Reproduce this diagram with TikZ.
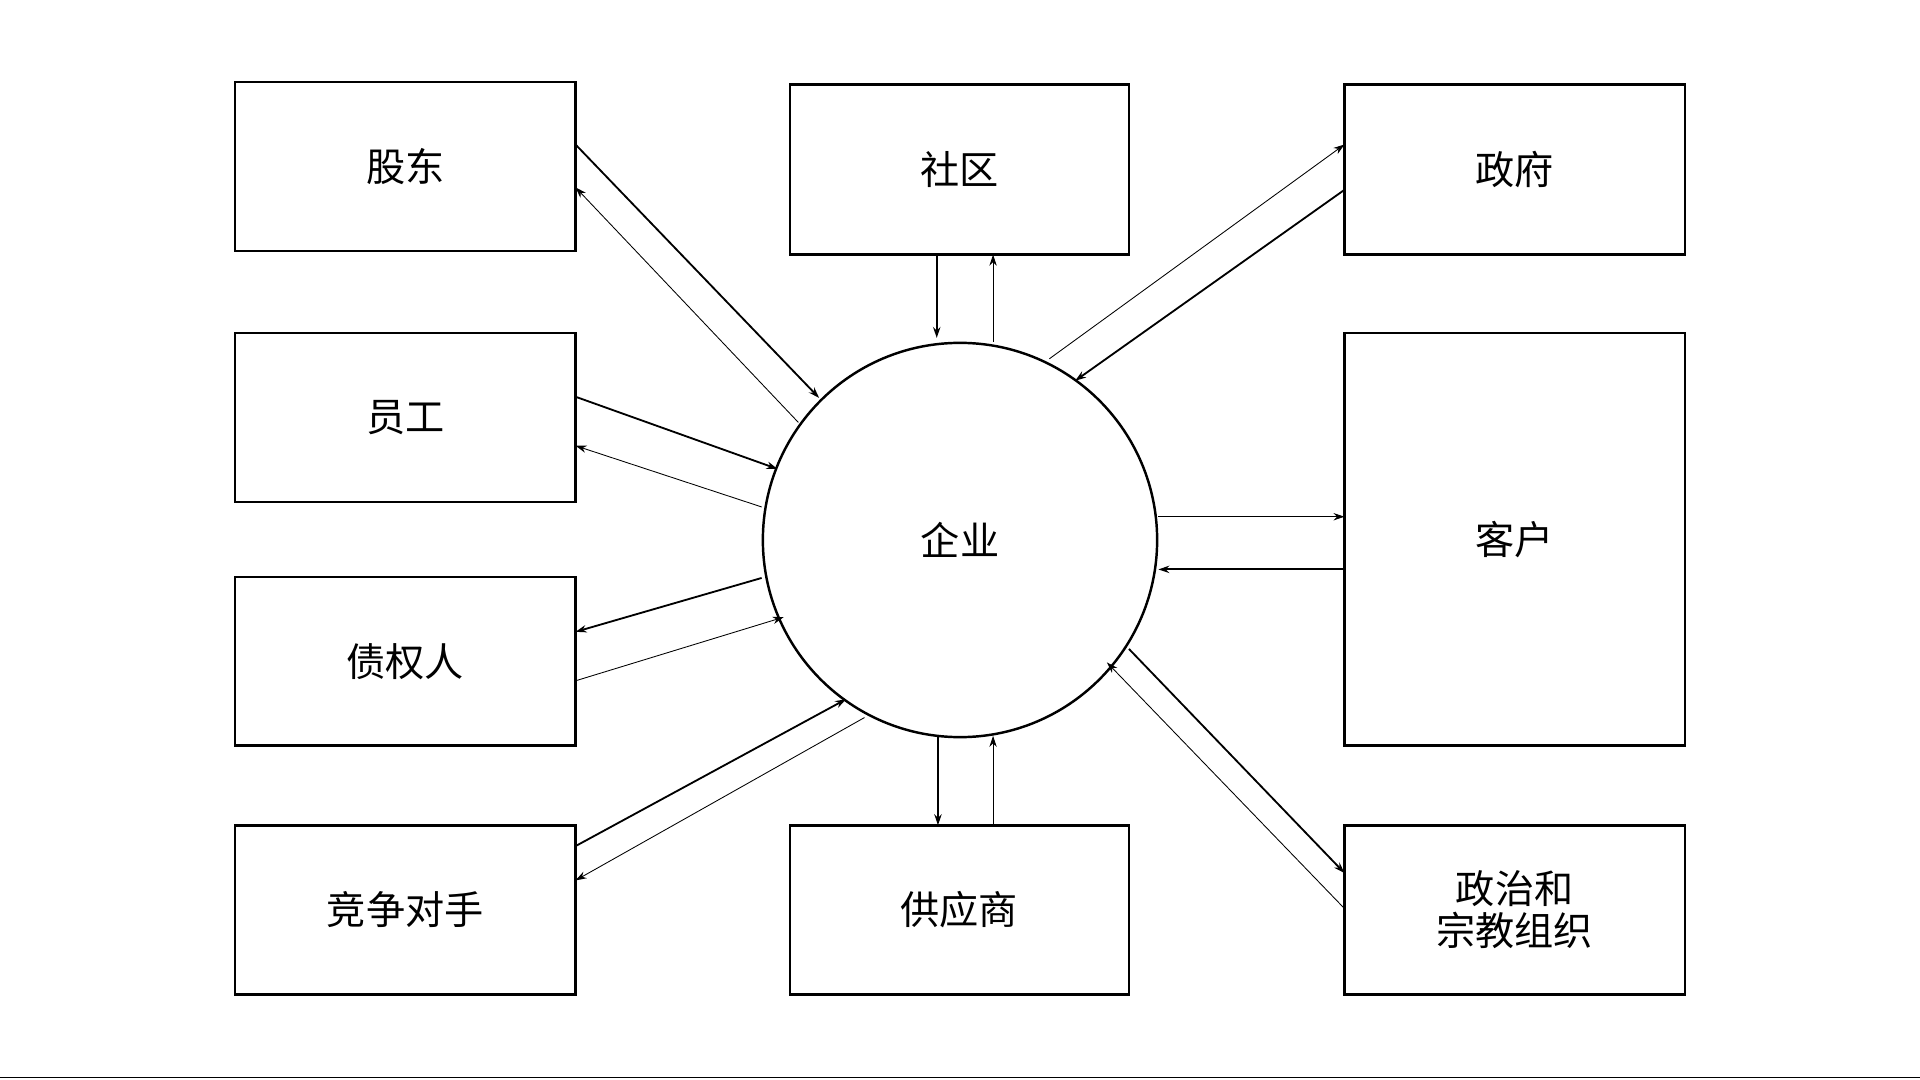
\documentclass[tikz,border=0pt]{standalone}
\usepackage{fontspec}
\setmainfont{Noto Sans CJK SC}
\usetikzlibrary{arrows.meta}
\begin{document}
\begin{tikzpicture}[x=1pt,y=-1pt,
  box/.style={draw,line width=2pt,font=\fontsize{32}{38}\selectfont,align=center},
  thk/.style={line width=1.5pt,-{Stealth[length=9pt,width=6pt]}},
  thn/.style={line width=0.7pt,-{Stealth[length=9pt,width=6pt]}}]
\useasboundingbox (0,0) rectangle (1568,882);
\newcommand{\bx}[6]{\node[box,minimum width=#4-#2,minimum height=#5-#3] (#1) at ({(#2+#4)/2},{(#3+#5)/2}) {#6};}
\bx{gd}{192}{67}{470}{205}{股东}
\bx{sq}{645}{69}{922}{208}{社区}
\bx{zf}{1098}{69}{1376}{208}{政府}
\bx{yg}{192}{272}{470}{410}{员工}
\bx{kh}{1098}{272}{1376}{609}{客户}
\bx{zq}{192}{471}{470}{609}{债权人}
\bx{jz}{192}{674}{470}{812}{竞争对手}
\bx{gy}{645}{674}{922}{812}{供应商}
\bx{zz}{1098}{674}{1376}{812}{政治和\\[-4pt]宗教组织}
\node[draw,circle,line width=2pt,minimum size=322pt,font=\fontsize{32}{38}\selectfont] (qy) at (784,441) {企业};
\draw[line width=1pt] (0,880) coordinate (l1) -- (1568,880) coordinate (l2);
% endpoints
\coordinate (a1) at (470,118); \coordinate (a2) at (669,325);
\coordinate (a3) at (652,345); \coordinate (a4) at (470,153);
\coordinate (b1) at (765,208); \coordinate (b2) at (765,276);
\coordinate (b3) at (811,279); \coordinate (b4) at (811,208);
\coordinate (c1) at (857,293); \coordinate (c2) at (1098,118);
\coordinate (c3) at (1098,155); \coordinate (c4) at (878,311);
\coordinate (d1) at (470,324); \coordinate (d2) at (635,383);
\coordinate (d3) at (622,414); \coordinate (d4) at (470,364);
\coordinate (e1) at (946,422); \coordinate (e2) at (1098,422);
\coordinate (e3) at (1098,465); \coordinate (e4) at (946,465);
\coordinate (f1) at (622,472); \coordinate (f2) at (470,516);
\coordinate (f3) at (470,556); \coordinate (f4) at (640,504);
\coordinate (g1) at (470,691); \coordinate (g2) at (691,571);
\coordinate (g3) at (706,586); \coordinate (g4) at (470,719);
\coordinate (h1) at (766,601); \coordinate (h2) at (766,674);
\coordinate (h3) at (811,674); \coordinate (h4) at (811,601);
\coordinate (i1) at (922,530); \coordinate (i2) at (1098,713);
\coordinate (i3) at (1098,742); \coordinate (i4) at (904,541);
\draw[thk] (a1)--(a2); \draw[thn] (a3)--(a4);
\draw[thk] (b1)--(b2); \draw[thn] (b3)--(b4);
\draw[thn] (c1)--(c2); \draw[thk] (c3)--(c4);
\draw[thk] (d1)--(d2); \draw[thn] (d3)--(d4);
\draw[thn] (e1)--(e2); \draw[thk] (e3)--(e4);
\draw[thk] (f1)--(f2); \draw[thn] (f3)--(f4);
\draw[thk] (g1)--(g2); \draw[thn] (g3)--(g4);
\draw[thk] (h1)--(h2); \draw[thn] (h3)--(h4);
\draw[thk] (i1)--(i2); \draw[thn] (i3)--(i4);
\end{tikzpicture}
\end{document}
